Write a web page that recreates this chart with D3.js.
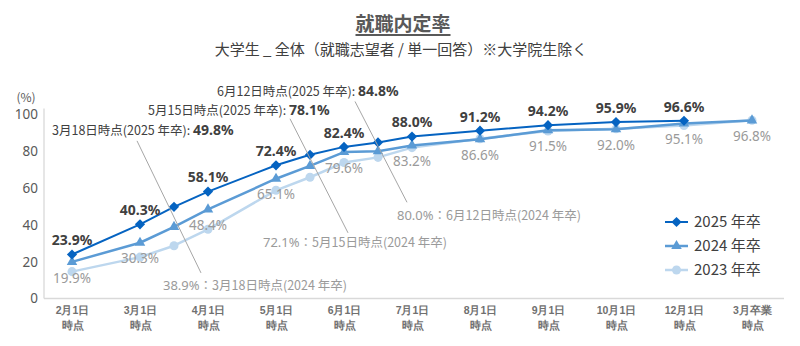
<!DOCTYPE html>
<html><head><meta charset="utf-8">
<script src="https://cdn.jsdelivr.net/npm/d3@7"></script>
<style>
body{margin:0;background:#fff;}
svg{display:block;font-family:"Noto Sans CJK JP","Noto Sans",sans-serif;}
</style></head><body>
<svg id="chart" width="800" height="346"></svg>
<script>
// ---------- data ----------
const categories = ["2月1日","3月1日","4月1日","5月1日","6月1日","7月1日","8月1日","9月1日","10月1日","12月1日","3月卒業"];
const categorySub = "時点";
// position on the category axis (category index; .5 = intermediate survey date)
const pos2025 = [0,1,1.5,2,3,3.5,4,4.5,5,6,7,8,9];
const val2025 = [23.9,40.3,49.8,58.1,72.4,78.1,82.4,84.8,88.0,91.2,94.2,95.9,96.6];
const pos2024 = [0,1,1.5,2,3,3.5,4,4.5,5,6,7,8,9,10];
const val2024 = [19.9,30.3,38.9,48.4,65.1,72.1,79.6,80.0,83.2,86.6,91.5,92.0,95.1,96.8];
const pos2023 = [0,1,1.5,2,3,3.5,4,4.5,5,6,7,8,9,10];
const val2023 = [14.6,22.5,28.7,37.6,58.8,65.9,73.9,76.7,82.0,86.8,91.0,92.2,94.0,96.9];
const seriesNames = ["2025 年卒","2024 年卒","2023 年卒"];
const yTicks = [0,20,40,60,80,100];
const titleText = "就職内定率";
const subtitleText = "大学生 _ 全体（就職志望者 / 単一回答）※大学院生除く";
const annotations = [
  {pos:1.5, date:"3月18日", v25:49.8, v24:38.9},
  {pos:3.5, date:"5月15日", v25:78.1, v24:72.1},
  {pos:4.5, date:"6月12日", v25:84.8, v24:80.0}
];

// ---------- layout ----------
const svg = d3.select("#chart");
const x = d3.scaleLinear().domain([0,10]).range([72,752]);
const y = d3.scaleLinear().domain([0,100]).range([298.5,114.5]);
const axisColor = "#d9d9d9";
const colors = ["#0563C1","#5B9BD5","#BDD7EE"];
const widths = [2,2.5,2.5];
const darkText = "#404040", greyText = "#9a9a9a";

const series = [
  {name:seriesNames[0], pts:pos2025.map((p,i)=>({p, v:val2025[i]})), color:colors[0], w:widths[0], sym:"diamond"},
  {name:seriesNames[1], pts:pos2024.map((p,i)=>({p, v:val2024[i]})), color:colors[1], w:widths[1], sym:"triangle"},
  {name:seriesNames[2], pts:pos2023.map((p,i)=>({p, v:val2023[i]})), color:colors[2], w:widths[2], sym:"circle"}
];
const symPath = {
  diamond: d3.symbol().type(d3.symbolSquare).size(52)(),
  triangle: d3.symbol().type(d3.symbolTriangle).size(48)(),
  circle: d3.symbol().type(d3.symbolCircle).size(64)()
};
const symRot = {diamond:45, triangle:0, circle:0};

// title
const title = svg.append("text").attr("x",403).attr("y",24).attr("dy","0.35em")
  .attr("text-anchor","middle").attr("font-size",19).attr("font-weight","bold")
  .attr("fill","#595959").text(titleText);
const tw = title.node().getComputedTextLength();
svg.append("line").attr("x1",403-tw/2).attr("x2",403+tw/2).attr("y1",35).attr("y2",35)
  .attr("stroke","#595959").attr("stroke-width",2);
svg.append("text").attr("x",401).attr("y",50).attr("dy","0.35em")
  .attr("text-anchor","middle").attr("font-size",15).attr("fill",darkText).text(subtitleText);

// y axis
const yAxis = svg.append("g").attr("transform","translate(44,0)")
  .call(d3.axisLeft(y).tickValues(yTicks).tickSize(0).tickPadding(6));
yAxis.select(".domain").remove();
yAxis.selectAll("text").attr("font-size",13.5).attr("fill","#595959").attr("font-family","'Noto Sans','Noto Sans CJK JP',sans-serif");
svg.append("line").attr("x1",44).attr("x2",44).attr("y1",y(100)-6).attr("y2",y(0))
  .attr("stroke",axisColor).attr("stroke-width",1.3);
svg.append("text").attr("x",26).attr("y",98).attr("dy","0.35em").attr("text-anchor","middle")
  .attr("font-size",12).attr("fill","#595959").text("(%)");

// x axis
const xAxis = svg.append("g").attr("transform",`translate(0,${y(0)})`)
  .call(d3.axisBottom(x).tickValues(d3.range(categories.length)).tickFormat(i=>categories[i]).tickSize(0).tickPadding(0));
xAxis.select(".domain").remove();
xAxis.selectAll("text").each(function(i){
  const t = d3.select(this).text(null).attr("y",null).attr("dy",null)
    .attr("font-size",10.5).attr("font-weight","bold").attr("fill","#707070");
  t.append("tspan").attr("x",0).attr("y",15).text(categories[i]);
  t.append("tspan").attr("x",0).attr("y",30).text(categorySub);
});
svg.append("line").attr("x1",44).attr("x2",784).attr("y1",y(0)).attr("y2",y(0))
  .attr("stroke",axisColor).attr("stroke-width",1.5);

// lines (draw 2023 first, 2025 on top)
const line = d3.line().x(d=>x(d.p)).y(d=>y(d.v));
series.slice().reverse().forEach(s=>{
  const g = svg.append("g");
  g.append("path").datum(s.pts).attr("d",line).attr("fill","none")
    .attr("stroke",s.color).attr("stroke-width",s.w).attr("stroke-linejoin","round");
  g.selectAll("path.m").data(s.pts).join("path").attr("class","m")
    .attr("d",symPath[s.sym]).attr("fill",s.color)
    .attr("transform",d=>`translate(${x(d.p)},${y(d.v)}) rotate(${symRot[s.sym]})`);
});

// data labels (only category dates; intermediate dates are in annotations)
svg.append("g").selectAll("text").data(series[0].pts.filter(d=>Number.isInteger(d.p))).join("text")
  .attr("x",d=>x(d.p)).attr("y",d=>y(d.v)-14).attr("dy","0.35em").attr("text-anchor","middle")
  .attr("font-size",14).attr("font-weight","bold").attr("fill",darkText)
  .attr("font-family","'Noto Sans',sans-serif").text(d=>d.v.toFixed(1)+"%");
svg.append("g").selectAll("text").data(series[1].pts.filter(d=>Number.isInteger(d.p))).join("text")
  .attr("x",d=>x(d.p)).attr("y",d=>y(d.v)+16).attr("dy","0.35em").attr("text-anchor","middle")
  .attr("font-size",13.5).attr("fill",greyText)
  .attr("font-family","'Noto Sans',sans-serif").text(d=>d.v.toFixed(1)+"%");

// annotations (offsets relative to the annotated points)
const annLayout = [
  {tx:-122, ty:-77, bx:-11, by:57, l1:[-37,-66], l2:[27,46]},
  {tx:-162, ty:-45, bx:-47, by:76, l1:[-20,-36], l2:[38,67]},
  {tx:-161, ty:-52, bx:19, by:63, l1:[-23,-41], l2:[29,51]}
];
annotations.forEach((a,i)=>{
  const L = annLayout[i], ax = x(a.pos), a25 = y(a.v25), a24 = y(a.v24);
  svg.append("line").attr("x1",ax+L.l1[0]).attr("y1",a25+L.l1[1])
    .attr("x2",ax+L.l2[0]).attr("y2",a24+L.l2[1]).attr("stroke","#a6a6a6").attr("stroke-width",1);
  const t = svg.append("text").attr("x",ax+L.tx).attr("y",a25+L.ty).attr("dy","0.35em").attr("fill",darkText);
  t.append("tspan").attr("font-size",12.5).text(`${a.date}時点(2025 年卒): `);
  t.append("tspan").attr("font-size",14).attr("font-weight","bold").attr("font-family","'Noto Sans',sans-serif").text(a.v25.toFixed(1)+"%");
  const b = svg.append("text").attr("x",ax+L.bx).attr("y",a24+L.by).attr("dy","0.35em").attr("fill",greyText);
  b.append("tspan").attr("font-size",13).attr("font-family","'Noto Sans',sans-serif").text(a.v24.toFixed(1)+"%");
  b.append("tspan").attr("font-size",12.5).text(`：${a.date}時点(2024 年卒)`);
});

// legend
const lg = svg.append("g");
series.forEach((s,i)=>{
  const cy = 222 + i*24;
  lg.append("line").attr("x1",665).attr("x2",688).attr("y1",cy).attr("y2",cy).attr("stroke",s.color).attr("stroke-width",s.w);
  lg.append("path").attr("d",symPath[s.sym]).attr("fill",s.color).attr("transform",`translate(676.5,${cy}) rotate(${symRot[s.sym]})`);
  lg.append("text").attr("x",694).attr("y",cy).attr("dy","0.35em").attr("font-size",15).attr("fill",darkText).text(s.name);
});
</script>
</body></html>
